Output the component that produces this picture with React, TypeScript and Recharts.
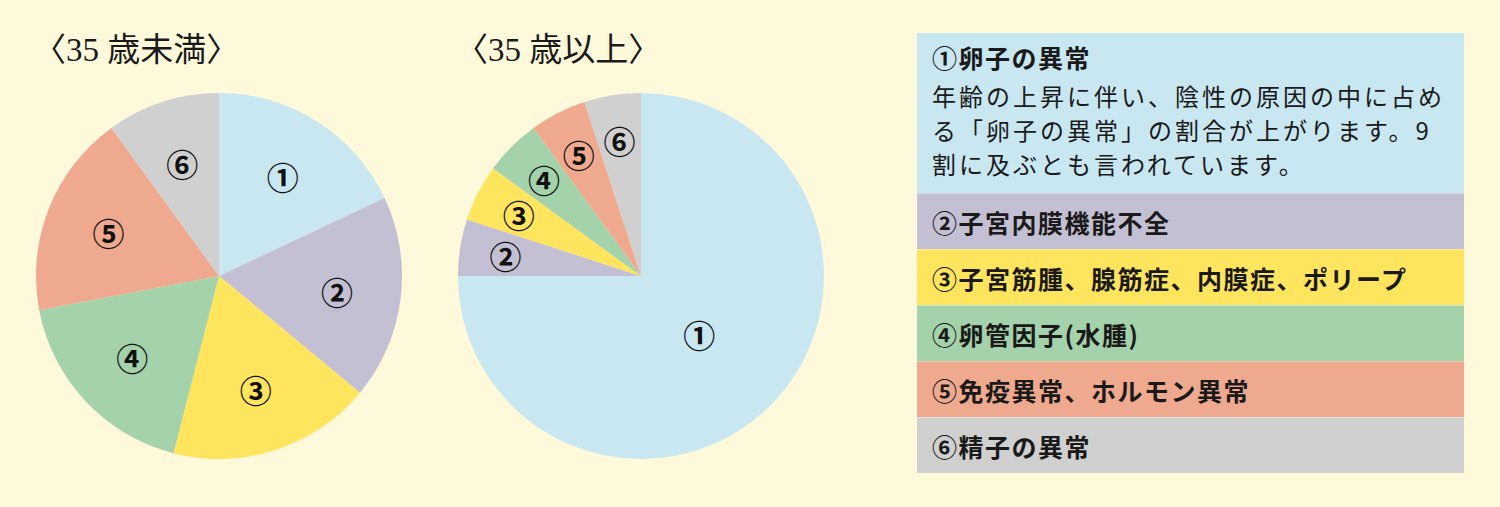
import React from "react"
import { Cell, Pie, PieChart } from "recharts"

const categories = ["①", "②", "③", "④", "⑤", "⑥"]
const under35Values = [18, 18, 18, 18, 18, 10]
const over35Values = [75, 5, 5, 5, 5, 5]
const chartTitles = ["〈35 歳未満〉", "〈35 歳以上〉"]
const legendTitles = [
  "①卵子の異常",
  "②子宮内膜機能不全",
  "③子宮筋腫、腺筋症、内膜症、ポリープ",
  "④卵管因子(水腫)",
  "⑤免疫異常、ホルモン異常",
  "⑥精子の異常",
]
const legendNoteLines = [
  "年齢の上昇に伴い、陰性の原因の中に占め",
  "る「卵子の異常」の割合が上がります。9",
  "割に及ぶとも言われています。",
]

const COLORS = ["#C9E7F1", "#C4C0D4", "#FFE45E", "#A4D2AB", "#EFA98E", "#D0D0D0"]
const BG = "#FFF9DC"
const CJK = "'Noto Sans CJK JP', 'Noto Sans', sans-serif"

const under35 = categories.map((name, i) => ({ name, value: under35Values[i] }))
const over35 = categories.map((name, i) => ({ name, value: over35Values[i] }))

const RADIAN = Math.PI / 180

function renderLabel(props: any) {
  const { cx, cy, midAngle, outerRadius, percent, index } = props
  const factor = percent > 0.5 ? 0.45 : percent < 0.08 ? 0.75 : 0.65
  const r = outerRadius * factor
  const x = cx + r * Math.cos(-midAngle * RADIAN)
  const y = cy + r * Math.sin(-midAngle * RADIAN)
  return (
    <text
      x={x}
      y={y}
      fill="#111"
      fontSize={32}
      fontWeight={700}
      fontFamily={CJK}
      textAnchor="middle"
      dominantBaseline="central"
    >
      {categories[index]}
    </text>
  )
}

export default function App() {
  return (
    <div
      style={{
        position: "absolute",
        left: 0,
        top: 0,
        width: 1500,
        height: 507,
        background: BG,
        overflow: "hidden",
      }}
    >
      {chartTitles.map((t, i) => (
        <div
          key={t}
          style={{
            position: "absolute",
            left: i === 0 ? 33 : 455,
            top: 23,
            fontSize: 33,
            fontFamily: "'Liberation Serif', 'Noto Sans CJK JP', serif",
            color: "#1a1a1a",
            whiteSpace: "pre",
          }}
        >
          {t}
        </div>
      ))}
      <div style={{ position: "absolute", left: 0, top: 0 }}>
        <PieChart width={900} height={507} margin={{ top: 0, right: 0, bottom: 0, left: 0 }}>
          <Pie
            data={under35}
            dataKey="value"
            nameKey="name"
            cx={219}
            cy={276}
            outerRadius={183}
            startAngle={90}
            endAngle={-270}
            stroke="none"
            label={renderLabel}
            labelLine={false}
            isAnimationActive={false}
          >
            {under35.map((d, i) => (
              <Cell key={d.name} fill={COLORS[i]} />
            ))}
          </Pie>
          <Pie
            data={over35}
            dataKey="value"
            nameKey="name"
            cx={641}
            cy={276}
            outerRadius={183}
            startAngle={90}
            endAngle={-270}
            stroke="none"
            label={renderLabel}
            labelLine={false}
            isAnimationActive={false}
          >
            {over35.map((d, i) => (
              <Cell key={d.name} fill={COLORS[i]} />
            ))}
          </Pie>
        </PieChart>
      </div>
      <div
        style={{
          position: "absolute",
          left: 917,
          top: 33,
          width: 547,
          fontFamily: CJK,
          color: "#1a1a1a",
        }}
      >
        {legendTitles.map((t, i) => (
          <div
            key={t}
            style={{
              background: COLORS[i],
              height: i === 0 ? 160 : 56,
              boxSizing: "border-box",
              padding: i === 0 ? "7px 0 0 15px" : "0 0 0 15px",
              display: "flex",
              flexDirection: "column",
              justifyContent: i === 0 ? "flex-start" : "center",
              borderTop: i === 0 ? "none" : "1px solid rgba(255,255,255,0.35)",
            }}
          >
            <div style={{ fontSize: 25, fontWeight: 700, letterSpacing: 1.5, lineHeight: "34px" }}>{t}</div>
            {i === 0 &&
              legendNoteLines.map((line, j) => (
                <div
                  key={line}
                  style={{
                    fontSize: 24,
                    fontWeight: 400,
                    letterSpacing: 3,
                    lineHeight: "34px",
                    marginTop: j === 0 ? 5 : 0,
                    whiteSpace: "pre",
                  }}
                >
                  {line}
                </div>
              ))}
          </div>
        ))}
      </div>
    </div>
  )
}
